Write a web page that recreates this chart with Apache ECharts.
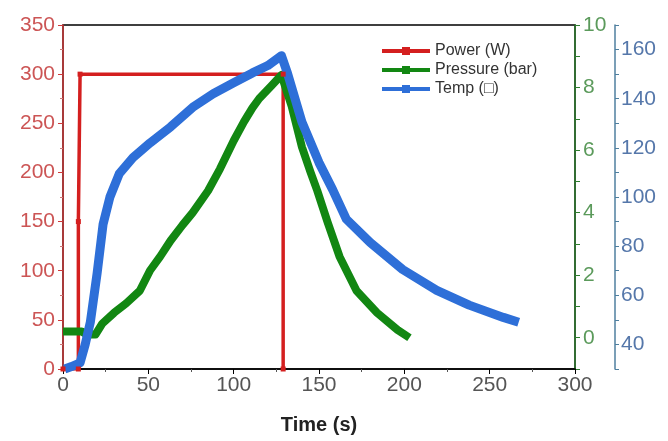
<!DOCTYPE html>
<html><head><meta charset="utf-8">
<script src="https://cdn.jsdelivr.net/npm/echarts@6/dist/echarts.min.js"></script>
<style>html,body{margin:0;padding:0;background:#fff}#c{width:668px;height:441px}</style>
</head><body><div id="c"></div>
<script>
const seriesNames = ['Power (W)', 'Pressure (bar)', 'Temp (\u25A1)'];
const xAxisName = 'Time (s)';
// [time s, power W]
const powerData = [[0,0],[9,0],[9,150],[10,300],[129,300],[129,0]];
// [time s, pressure bar]
const pressureData = [[0,0.2],[11,0.2],[14,0.1],[19,0.1],[23,0.45],[30,0.8],[37,1.1],[45,1.5],[51,2.15],[57,2.6],[63,3.1],[70,3.6],[76,4.0],[85,4.7],[92,5.4],[100,6.3],[106,6.9],[111,7.35],[115,7.65],[122,8.05],[128,8.4],[134,7.4],[140,6.1],[145,5.3],[149,4.7],[155,3.7],[162,2.6],[172,1.5],[184,0.8],[196,0.25],[203,0.0]];
// [time s, temperature]
const tempData = [[1,30],[5,31],[10,32.5],[13,40],[16,49],[20,69],[23.5,89],[27.5,100],[33,109.5],[41,116],[51,122],[63,128.5],[76,136.5],[88,142],[100,146.5],[111,150.5],[120,153.5],[128,157.5],[131.5,150.5],[140,130.5],[150,114],[158,103],[166,91],[180,81.5],[199,70.5],[219,62],[238,56],[258,51],[267,49]];

const colors = ['#d41f1f', '#128712', '#2e6fd8'];
const font = 'Liberation Sans, Arial, sans-serif';

const chart = echarts.init(document.getElementById('c'), null, {renderer: 'canvas'});
chart.setOption({
  animation: false,
  backgroundColor: '#fff',
  color: colors,
  grid: {left: 63, right: 93, top: 25, bottom: 72, show: true, borderColor: '#000', borderWidth: 1.5, backgroundColor: 'transparent'},
  legend: {
    data: seriesNames, orient: 'vertical', left: 375, top: 38, itemWidth: 48, itemHeight: 10, itemGap: 3,
    textStyle: {fontSize: 16, color: '#333', fontFamily: font},
    lineStyle: {width: 4}
  },
  xAxis: {
    type: 'value', min: 0, max: 300, interval: 50,
    name: xAxisName, nameLocation: 'middle', nameGap: 46,
    nameTextStyle: {fontSize: 20, fontWeight: 'bold', color: '#222', fontFamily: font},
    axisLine: {lineStyle: {color: '#000', width: 1.5}},
    axisTick: {length: 5, lineStyle: {color: '#000'}},
    minorTick: {show: true, splitNumber: 2, length: 3, lineStyle: {color: '#555'}},
    axisLabel: {fontSize: 21, color: '#555', margin: 6, fontFamily: font},
    splitLine: {show: false}
  },
  yAxis: [
    {
      type: 'value', min: 0, max: 350, interval: 50, position: 'left',
      axisLine: {show: true, lineStyle: {color: '#cc3a3a', width: 1.5}},
      axisTick: {show: true, length: 5, lineStyle: {color: '#cc3a3a'}},
      minorTick: {show: true, splitNumber: 2, length: 3, lineStyle: {color: '#cc7777'}},
      axisLabel: {fontSize: 21, color: '#cc5555', margin: 8, fontFamily: font},
      splitLine: {show: false}
    },
    {
      type: 'value', min: -1, max: 10, interval: 1, position: 'right',
      axisLine: {show: true, lineStyle: {color: '#2f7d2f', width: 1.5}},
      axisTick: {show: true, length: 5, lineStyle: {color: '#2f7d2f'}},
      axisLabel: {fontSize: 21, color: '#5b9a5b', margin: 8, fontFamily: font,
        formatter: v => (v >= 0 && v % 2 === 0) ? String(v) : ''},
      splitLine: {show: false}
    },
    {
      type: 'value', min: 30, max: 170, interval: 10, position: 'right', offset: 40,
      axisLine: {show: true, lineStyle: {color: '#4f7f9f', width: 1.5}},
      axisTick: {show: true, length: 4, lineStyle: {color: '#4f7f9f'}},
      axisLabel: {fontSize: 21, color: '#5577aa', margin: 6, fontFamily: font,
        formatter: v => (v >= 40 && v <= 160 && v % 20 === 0) ? String(v) : ''},
      splitLine: {show: false}
    }
  ],
  series: [
    {name: seriesNames[0], type: 'line', yAxisIndex: 0, data: powerData,
      symbol: 'rect', symbolSize: 5, showSymbol: true,
      lineStyle: {width: 3.5, color: colors[0]}, itemStyle: {color: colors[0]}},
    {name: seriesNames[1], type: 'line', yAxisIndex: 1, data: pressureData,
      symbol: 'rect', symbolSize: 9, showSymbol: false,
      lineStyle: {width: 8, color: colors[1], join: 'round'}, itemStyle: {color: colors[1]}},
    {name: seriesNames[2], type: 'line', yAxisIndex: 2, data: tempData,
      symbol: 'rect', symbolSize: 9, showSymbol: false,
      lineStyle: {width: 9, color: colors[2], join: 'round'}, itemStyle: {color: colors[2]}}
  ]
});
</script></body></html>
